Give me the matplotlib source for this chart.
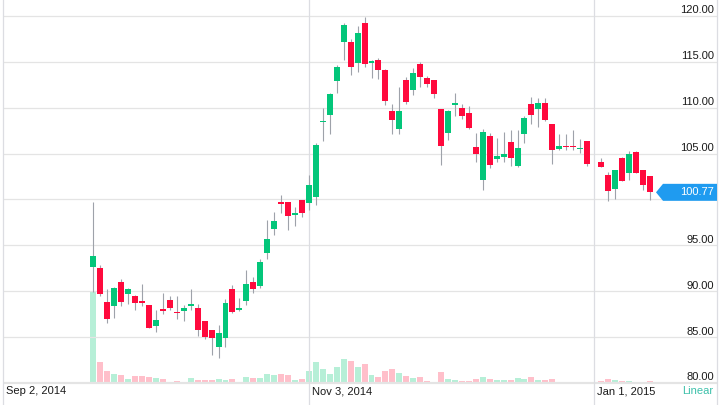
import matplotlib
matplotlib.use('Agg')
import matplotlib.pyplot as plt
from matplotlib.patches import Polygon
from matplotlib.transforms import blended_transform_factory
import numpy as np
import pandas as pd

plt.rcParams['font.family'] = ['Liberation Sans', 'DejaVu Sans']

# trading days shown (Sep 19 2014 .. Jan 13 2015)
dates = pd.bdate_range('2014-09-19', '2015-01-13', freq='C',
                       holidays=['2014-11-27', '2014-12-25', '2015-01-01'])
# slots on the time axis (Jan 1 keeps an empty slot)
slots = pd.bdate_range('2014-09-02', '2015-02-27', freq='C',
                       holidays=['2014-11-27', '2014-12-25'])

opens = [92.60, 92.57, 88.82, 88.39, 90.97, 89.66, 89.52, 88.90, 88.53, 86.17,
         88.02, 89.08, 87.77, 87.88, 88.39, 88.17, 86.71, 85.73, 83.91, 84.89,
         90.28, 87.92, 88.93, 91.00, 90.60, 94.20, 96.81, 99.65, 99.72, 98.34,
         99.90, 99.58, 100.23, 108.39, 109.15, 112.87, 117.16, 117.16, 114.90, 119.20,
         114.90, 115.20, 114.13, 109.67, 107.68, 113.00, 111.92, 114.75, 113.19, 113.00,
         109.86, 107.21, 110.33, 109.96, 109.42, 105.76, 102.14, 106.92, 104.35, 104.57,
         106.23, 103.59, 107.07, 110.43, 109.86, 110.51, 108.19, 105.54, 105.83, 105.80,
         105.50, 106.34, 104.09, 102.64, 101.16, 104.46, 102.83, 105.14, 103.15, 102.54]
highs = [99.70, 92.83, 90.28, 90.45, 91.37, 90.30, 89.55, 90.75, 88.55, 87.99,
         89.81, 89.52, 89.52, 88.46, 90.21, 88.64, 86.75, 85.76, 86.35, 89.12,
         90.72, 89.30, 92.35, 91.50, 93.50, 97.80, 98.63, 100.52, 99.75, 99.20,
         99.95, 102.67, 106.17, 109.99, 111.59, 114.61, 119.24, 117.42, 118.87, 119.89,
         115.23, 115.45, 114.20, 110.40, 112.28, 113.37, 114.28, 114.93, 113.40, 113.05,
         109.90, 109.70, 111.56, 110.40, 110.22, 107.21, 107.68, 107.21, 106.67, 107.32,
         107.57, 107.57, 109.06, 111.16, 111.09, 111.09, 108.20, 107.10, 107.10, 107.61,
         106.63, 106.36, 104.53, 103.00, 103.19, 104.64, 105.25, 105.25, 103.16, 102.55]
lows = [89.95, 89.44, 86.53, 87.11, 88.42, 88.64, 87.91, 88.39, 86.00, 85.55,
        87.48, 88.00, 86.93, 86.71, 87.91, 85.11, 84.82, 83.10, 82.71, 83.91,
        87.62, 87.85, 88.46, 89.80, 90.30, 93.50, 96.16, 98.52, 96.67, 97.14,
        98.05, 98.89, 99.40, 106.31, 107.11, 111.59, 115.16, 113.52, 113.88, 114.43,
        113.27, 113.08, 110.29, 107.14, 107.14, 110.40, 111.38, 112.21, 112.21, 111.00,
        103.80, 106.49, 109.13, 108.77, 107.68, 104.06, 101.05, 103.41, 104.06, 104.06,
        103.59, 103.55, 106.16, 108.26, 107.90, 108.55, 103.84, 105.36, 105.36, 105.36,
        105.07, 103.62, 103.48, 99.86, 100.00, 102.03, 102.10, 102.93, 101.01, 99.93]
closes = [93.80, 89.73, 87.00, 90.39, 88.79, 90.28, 88.71, 88.71, 86.02, 86.89,
          87.88, 88.17, 87.62, 88.17, 88.64, 85.73, 85.00, 84.86, 85.44, 88.75,
          87.77, 88.20, 90.75, 90.20, 93.20, 95.70, 97.61, 99.55, 98.19, 98.56,
          98.52, 101.58, 105.88, 108.53, 111.45, 114.39, 118.98, 114.43, 118.10, 114.72,
          115.02, 114.10, 110.69, 108.66, 109.67, 110.58, 113.77, 113.37, 112.57, 111.49,
          105.87, 109.67, 110.47, 109.06, 107.79, 104.96, 107.39, 103.77, 104.78, 104.93,
          104.53, 105.62, 108.84, 109.17, 110.51, 108.70, 105.43, 105.80, 105.69, 105.69,
          105.65, 103.84, 103.51, 100.91, 103.19, 102.03, 104.93, 102.93, 101.56, 100.77]
# volume, millions of shares
volumes = [271, 62, 34.5, 26.5, 23.6, 12.7, 20.6, 19.8, 18.6, 15.6,
           12.7, 2.1, 5.9, 3.0, 14.8, 8.9, 8.9, 9.7, 10.9, 8.9,
           11.8, 3.0, 17.7, 14.8, 14.8, 25.7, 22.7, 25.7, 22.7, 8.9,
           10.9, 34.5, 61, 42.2, 27.4, 46.3, 69.9, 65.8, 48.1, 56,
           23.6, 17.7, 34.5, 40.4, 30.4, 21.5, 13.9, 16.8, 5.0, 2.0,
           32.5, 11.8, 9.7, 5.0, 5.0, 12.7, 18.6, 12.7, 8.9, 8.0,
           9.7, 15.6, 11.8, 16.8, 8.0, 8.0, 12.7, 1.0, 1.0, 3.0,
           3.0, 3.0, 5.0, 11.8, 9.7, 5.0, 5.9, 3.8, 1.0, 5.0]

price_levels = [80, 85, 90, 95, 100, 105, 110, 115, 120]
date_labels = {'2014-09-02': 'Sep 2, 2014', '2014-11-03': 'Nov 3, 2014',
               '2015-01-01': 'Jan 1, 2015'}

opens, highs, lows, closes = map(np.array, (opens, highs, lows, closes))
x = slots.get_indexer(dates)
up = closes >= opens

GREEN = '#03c67a'
RED = '#ff0a3d'
W, H = 726, 405
px_slot = 6.953
px_unit = 9.18

fig = plt.figure(figsize=(W / 100, H / 100), dpi=100)
rect = [3 / W, 0, 714 / W, 1]
ax_v = fig.add_axes(rect)
ax = fig.add_axes(rect)
ax.set_zorder(ax_v.get_zorder() + 1)
ax.patch.set_visible(False)

xmax = 714 / px_slot
for a in (ax, ax_v):
    a.set_xlim(0, xmax)
    a.set_xticks([])
    a.set_yticks([])
    for s in a.spines.values():
        s.set_visible(False)
ax.set_ylim(80 - 22 / px_unit, 80 + 383 / px_unit)
vscale = 271 / 92.0
ax_v.set_ylim(-22 * vscale, 383 * vscale)

# volume
ax_v.bar(x, volumes, width=0.86, color=np.where(up, '#b6efd7', '#ffbfca'), linewidth=0)

# grid
for p in price_levels:
    ax.axhline(p, color='#e4e4e4', lw=1.6 if p == 80 else 0.9, zorder=0)
for d in date_labels:
    ax.axvline(slots.get_loc(pd.Timestamp(d)), color='#dcdde2', lw=0.9, zorder=0, clip_on=False)
ax.axvline(xmax, color='#dcdde2', lw=0.9, zorder=0, clip_on=False)

# candles
ax.vlines(x, lows, highs, color='#9ea2aa', lw=0.8, zorder=2)
body = np.maximum(np.abs(closes - opens), 0.13)
ax.bar(x, body, bottom=np.minimum(opens, closes), width=0.86,
       color=np.where(up, GREEN, RED), linewidth=0, zorder=3)

# price labels
for p in price_levels:
    ax.annotate(f'{p:.2f}', xy=(1, p), xycoords=('axes fraction', 'data'),
                xytext=(-2.2, 0.4), textcoords='offset points',
                ha='right', va='bottom', fontsize=8, color='#1a1a1a')

# last price tag
tr = blended_transform_factory(ax.transAxes, ax.transData)
last = closes[-1]
hh = 8.5 / px_unit
x0 = (656 - 3) / 714
x1 = (663 - 3) / 714
tag = Polygon([(x0, last), (x1, last + hh), (1.0, last + hh), (1.0, last - hh), (x1, last - hh)],
              closed=True, transform=tr, facecolor='#1f9bf0', edgecolor='none', zorder=5,
              clip_on=False)
ax.add_patch(tag)
ax.annotate(f'{last:.2f}', xy=(1, last), xycoords=tr, xytext=(-2.5, 0),
            textcoords='offset points', ha='right', va='center',
            fontsize=8, color='white', zorder=6)

# date labels
ylab = 80 - 8 / px_unit
for d, lab in date_labels.items():
    ax.annotate(lab, xy=(slots.get_loc(pd.Timestamp(d)), ylab), xytext=(2, 0),
                textcoords='offset points', ha='left', va='center',
                fontsize=8, color='#1a1a1a')
ax.annotate('Linear', xy=(1, ylab), xycoords=tr, xytext=(-3, 0), textcoords='offset points',
            ha='right', va='center', fontsize=8, color='#3cc0aa')

fig.savefig('out.png', dpi=100)
